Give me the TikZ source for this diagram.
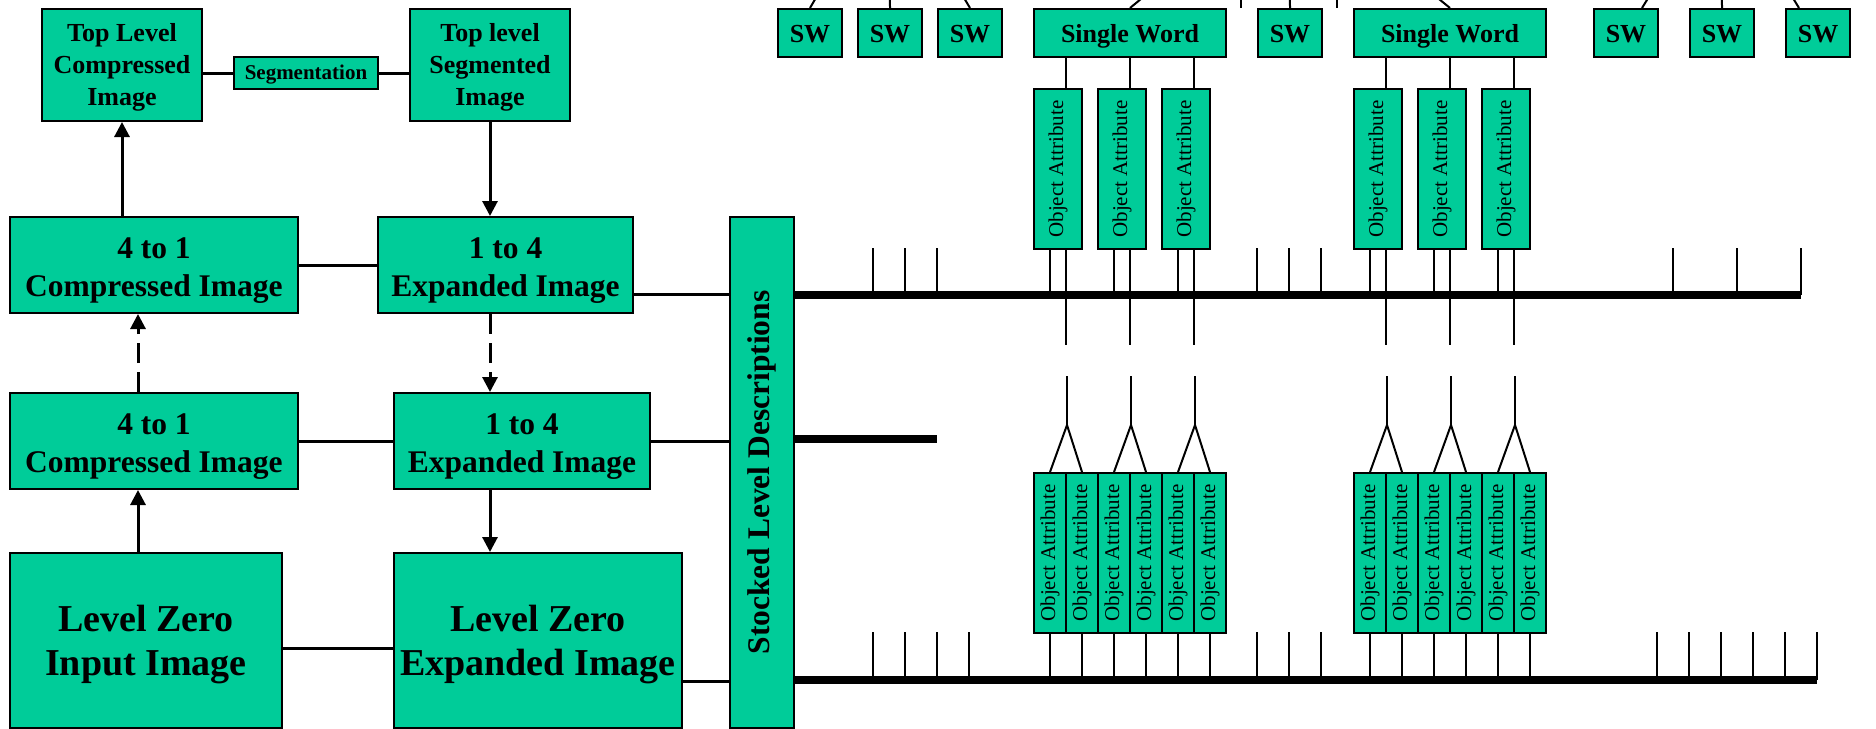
\documentclass[tikz,border=0pt]{standalone}
\usepackage{fontspec}
\setmainfont{Liberation Serif}
\usepackage{graphicx}
\usetikzlibrary{arrows.meta}
\definecolor{boxgreen}{RGB}{0,204,153}
\newcommand{\lowtext}[2]{\raisebox{-#1}[\height][\depth]{\begin{tabular}{@{}c@{}}#2\end{tabular}}}
\newcommand{\lowone}[2]{\raisebox{-#1}[\height][\depth]{#2}}
\begin{document}
\begin{tikzpicture}[x=1pt,y=-1pt,
  box/.style={draw=black,fill=boxgreen,line width=2pt,inner sep=0pt,align=center,anchor=north west},
  conn/.style={line width=3pt},
  arr/.style={line width=3pt,-{Triangle[length=15pt,width=15pt]}},
  darr/.style={arr,dash pattern=on 20pt off 9pt},
  thinl/.style={line width=2pt},
  bar/.style={line width=7.5pt},
  fa/.style={font=\bfseries\fontsize{26}{32}\selectfont},
  fseg/.style={font=\bfseries\fontsize{21}{25}\selectfont},
  fb/.style={font=\bfseries\fontsize{31.5}{38}\selectfont},
  fc/.style={font=\bfseries\fontsize{38}{44}\selectfont},
  foa/.style={font=\fontsize{21}{25}\selectfont},
  sw/.style={box,fa,minimum width=64pt,minimum height=48pt},
  swide/.style={box,fa,minimum width=192pt,minimum height=48pt},
  oaup/.style={box,foa,minimum width=48pt,minimum height=160pt},
  oalow/.style={box,foa,minimum width=32pt,minimum height=160pt}
]
\useasboundingbox (0,0) rectangle (1876,728);

% ---------- left block ----------
\node[box,fa,minimum width=160pt,minimum height=112pt] (tlc) at (41,8) {\lowtext{2pt}{Top Level\\Compressed\\Image}};
\node[box,fseg,minimum width=144pt,minimum height=32pt] (seg) at (233,56) {\lowone{2pt}{Segmentation}};
\node[box,fa,minimum width=160pt,minimum height=112pt] (tls) at (409,8) {\lowtext{2pt}{Top level\\Segmented\\Image}};
\node[box,fb,minimum width=288pt,minimum height=96pt] (c4top) at (9,216) {\lowtext{5pt}{4 to 1\\Compressed Image}};
\node[box,fb,minimum width=255pt,minimum height=96pt] (e4top) at (377,216) {\lowtext{5pt}{1 to 4\\Expanded Image}};
\node[box,fb,minimum width=288pt,minimum height=96pt] (c4mid) at (9,392) {\lowtext{5pt}{4 to 1\\Compressed Image}};
\node[box,fb,minimum width=256pt,minimum height=96pt] (e4mid) at (393,392) {\lowtext{5pt}{1 to 4\\Expanded Image}};
\node[box,fc,minimum width=272pt,minimum height=175pt] (lzi) at (9,552) {\lowtext{4pt}{Level Zero\\Input Image}};
\node[box,fc,minimum width=288pt,minimum height=175pt] (lze) at (393,552) {\lowtext{4pt}{Level Zero\\Expanded Image}};
\node[box,fb,minimum width=64pt,minimum height=511pt] (stk) at (729,216) {\rotatebox{90}{Stocked Level Descriptions}};

\draw[conn] (tlc.east |- seg.west) -- (seg.west);
\draw[conn] (seg.east) -- (seg.east -| tls.west);
\draw[arr] (c4top.north -| tlc.south) -- (tlc.south);
\draw[arr] (tls.south) -- (tls.south |- e4top.north);
\draw[conn] (c4top.east) -- (c4top.east -| e4top.west);
\draw[conn] ([yshift=-29pt]e4top.east) -- ([yshift=-29pt]e4top.east -| stk.west);
\draw[darr] ([xshift=-16pt]c4mid.north) -- ([xshift=-16pt]c4mid.north |- c4top.south);
\draw[darr] (e4top.south -| tls.south) -- (e4mid.north -| tls.south);
\draw[conn] (c4mid.east) -- (c4mid.east -| e4mid.west);
\draw[conn] (e4mid.east) -- (e4mid.east -| stk.west);
\draw[arr] ([xshift=-8pt]lzi.north) -- ([xshift=-8pt]lzi.north |- c4mid.south);
\draw[arr] (e4mid.south -| tls.south) -- (lze.north -| tls.south);
\draw[conn] ([yshift=-8pt]lzi.east) -- ([yshift=-8pt]lzi.east -| lze.west);
\draw[conn] ([yshift=-41pt]lze.east) -- ([yshift=-41pt]lze.east -| stk.west);

% ---------- top row ----------
\node[sw] (swA) at (777,8) {\lowone{1pt}{SW}};
\node[sw] (swB) at (857,8) {\lowone{1pt}{SW}};
\node[sw] (swC) at (937,8) {\lowone{1pt}{SW}};
\node[swide] (swd1) at (1033,8) {\lowone{3pt}{Single Word}};
\node[sw] (swD) at (1257,8) {\lowone{1pt}{SW}};
\node[swide] (swd2) at (1353,8) {\lowone{3pt}{Single Word}};
\node[sw] (swE) at (1593,8) {\lowone{1pt}{SW}};
\node[sw] (swF) at (1689,8) {\lowone{1pt}{SW}};
\node[sw] (swG) at (1785,8) {\lowone{1pt}{SW}};

\begin{scope}
\clip (0,0) rectangle (1876,728);
\coordinate (g1) at (889,-128);
\coordinate (g2) at (1289,-123);
\coordinate (g3) at (1721,-120);
\coordinate (s1) at (1241,-5);
\coordinate (s2) at (1337,-5);
\draw[thinl] (swA.north) -- (g1);
\draw[thinl] (swB.north) -- (g1);
\draw[thinl] (swC.north) -- (g1);
\draw[thinl] (swd1.north) -- (g2);
\draw[thinl] (swD.north) -- (g2);
\draw[thinl] (swd2.north) -- (g2);
\draw[thinl] ([xshift=16pt]swE.north) -- (g3);
\draw[thinl] (swF.north) -- (g3);
\draw[thinl] ([xshift=-19pt]swG.north) -- (g3);
\draw[thinl] (s1) -- (s1 |- swD.north);
\draw[thinl] (s2) -- (s2 |- swD.north);
\end{scope}

% ---------- upper object attributes ----------
\node[oaup] (oa1) at (1033,88) {\rotatebox{90}{Object Attribute}};
\node[oaup] (oa2) at (1097,88) {\rotatebox{90}{Object Attribute}};
\node[oaup] (oa3) at (1161,88) {\rotatebox{90}{Object Attribute}};
\node[oaup] (oa4) at (1353,88) {\rotatebox{90}{Object Attribute}};
\node[oaup] (oa5) at (1417,88) {\rotatebox{90}{Object Attribute}};
\node[oaup] (oa6) at (1481,88) {\rotatebox{90}{Object Attribute}};

% ---------- lower object attributes ----------
\foreach \i/\x in {1/1033,2/1065,3/1097,4/1129,5/1161,6/1193,7/1353,8/1385,9/1417,10/1449,11/1481,12/1513}
  \node[oalow] (b\i) at (\x,472) {\rotatebox{90}{Object Attribute}};

% ---------- bars ----------
\coordinate (tb) at (1801,295);
\coordinate (mb) at (937,439);
\coordinate (bb) at (1817,680);
\draw[bar] (stk.east |- tb) -- (tb);
\draw[bar] (stk.east |- mb) -- (mb);
\draw[bar] (stk.east |- bb) -- (bb);

\foreach \x in {873,905,937,1257,1289,1321,1673,1737,1801}
  \draw[thinl] (\x,248) -- (\x,295);
\foreach \x in {873,905,937,969,1257,1289,1321,1657,1689,1721,1753,1785,1817}
  \draw[thinl] (\x,632) -- (\x,680);

\foreach \n in {oa1,oa2,oa3,oa4,oa5,oa6}{
  \draw[thinl] ([xshift=8pt]\n.north) -- ([xshift=8pt]\n.north |- swd1.south);
  \draw[thinl] ([xshift=8pt]\n.south) -- ++(0,95);
  \draw[thinl] ([xshift=-8pt]\n.south) -- ([xshift=-8pt]\n.south |- tb);
}
\foreach \i in {1,...,12}
  \draw[thinl] (b\i.south) -- (b\i.south |- bb);

\foreach \k/\a/\b in {1/1/2,2/3/4,3/5/6,4/7/8,5/9/10,6/11/12}{
  \coordinate (ap\k) at ([yshift=47pt]b\a.north east);
  \draw[thinl] (b\a.north) -- (ap\k) -- (b\b.north);
  \draw[thinl] (ap\k) -- ++(0,-49);
}
\end{tikzpicture}
\end{document}
